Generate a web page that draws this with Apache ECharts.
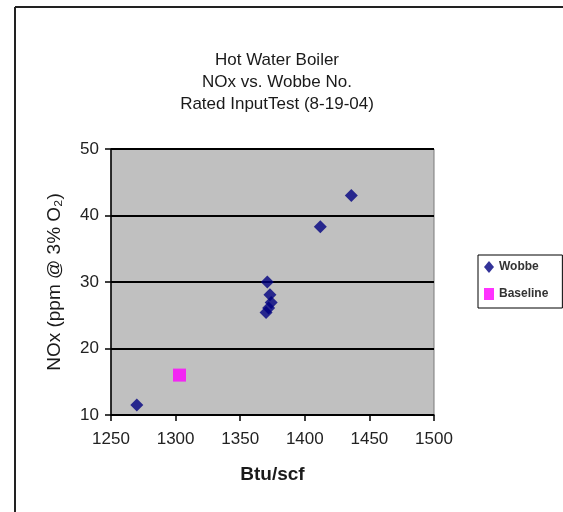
<!DOCTYPE html>
<html>
<head>
<meta charset="utf-8">
<script src="https://cdn.jsdelivr.net/npm/echarts@6/dist/echarts.min.js"></script>
<style>
  html, body { margin: 0; padding: 0; background: #fff; }
  #chart { width: 563px; height: 512px; }
</style>
</head>
<body>
<div id="chart"></div>
<script>
// Wobbe index (Btu/scf) vs. NOx corrected to 3% O2
const wobbeX = [1270, 1371, 1373, 1374, 1372, 1370, 1412, 1436];
const wobbeY = [11.5, 30.0, 28.1, 26.9, 26.1, 25.4, 38.3, 43.0];
const baselineX = [1303];
const baselineY = [16.0];

const titleLines = ['Hot Water Boiler', 'NOx vs. Wobbe No.', 'Rated InputTest (8-19-04)'];
const xAxisName = 'Btu/scf';
const yAxisName = 'NOx (ppm @ 3% O\u2082)';

const pairs = (xs, ys) => xs.map((x, i) => [x, ys[i]]);

const chart = echarts.init(document.getElementById('chart'), null, { renderer: 'canvas' });
const font = 'Liberation Sans, Arial, sans-serif';

chart.setOption({
  animation: false,
  backgroundColor: '#ffffff',
  textStyle: { fontFamily: font },
  title: {
    text: titleLines.join('\n'),
    left: 272,
    textAlign: 'center',
    top: 44,
    textStyle: { fontSize: 17, fontWeight: 'normal', color: '#1a1a1a', lineHeight: 22, fontFamily: font }
  },
  grid: {
    left: 111, right: 129, top: 149, bottom: 97,
    show: true, backgroundColor: '#c0c0c0', borderColor: '#7a7a7a', borderWidth: 1
  },
  legend: {
    orient: 'vertical',
    left: 478, top: 255,
    padding: [6, 14, 8, 6],
    itemGap: 15,
    itemWidth: 10, itemHeight: 12,
    borderColor: '#000', borderWidth: 1,
    backgroundColor: '#fff',
    textStyle: { fontSize: 12, fontWeight: 'bold', color: '#333', fontFamily: font },
    data: [
      { name: 'Wobbe', icon: 'diamond' },
      { name: 'Baseline', icon: 'rect' }
    ]
  },
  xAxis: {
    type: 'value', min: 1250, max: 1500, interval: 50,
    name: xAxisName, nameLocation: 'middle', nameGap: 50,
    nameTextStyle: { fontSize: 19, fontWeight: 'bold', color: '#1a1a1a', fontFamily: font },
    axisLine: { show: true, lineStyle: { color: '#000', width: 1.5 } },
    axisTick: { show: true, inside: false, length: 6, lineStyle: { color: '#000', width: 1.5 } },
    axisLabel: { fontSize: 17, color: '#222', margin: 16, fontFamily: font, formatter: v => String(v) },
    splitLine: { show: false }
  },
  yAxis: {
    type: 'value', min: 10, max: 50, interval: 10,
    name: yAxisName, nameLocation: 'middle', nameGap: 47,
    nameTextStyle: { fontSize: 19, color: '#1a1a1a', fontFamily: font },
    axisLine: { show: true, lineStyle: { color: '#000', width: 1.5 } },
    axisTick: { show: true, inside: false, length: 6, lineStyle: { color: '#000', width: 1.5 } },
    axisLabel: { fontSize: 17, color: '#222', margin: 12, fontFamily: font, formatter: v => String(v) },
    splitLine: { show: true, lineStyle: { color: '#000', width: 2 } }
  },
  series: [
    {
      name: 'Wobbe', type: 'scatter', symbol: 'diamond', symbolSize: 13,
      itemStyle: { color: '#000080' },
      data: pairs(wobbeX, wobbeY), z: 3
    },
    {
      name: 'Baseline', type: 'scatter', symbol: 'rect', symbolSize: 13,
      itemStyle: { color: '#ff00ff' },
      data: pairs(baselineX, baselineY), z: 3
    }
  ],
  graphic: [
    { type: 'line', shape: { x1: 15, y1: 7, x2: 563, y2: 7 }, style: { stroke: '#222', lineWidth: 2 } },
    { type: 'line', shape: { x1: 15, y1: 7, x2: 15, y2: 512 }, style: { stroke: '#222', lineWidth: 2 } }
  ]
});
</script>
</body>
</html>
